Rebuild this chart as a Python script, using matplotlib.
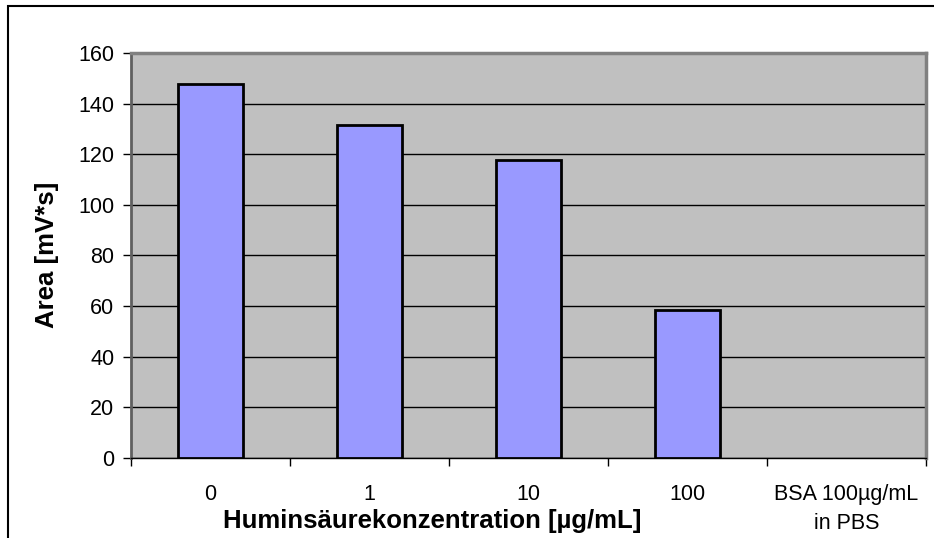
import matplotlib
matplotlib.use("Agg")
import matplotlib.pyplot as plt
from matplotlib.patches import Rectangle

categories = ["0", "1", "10", "100", "BSA 100µg/mL\nin PBS"]
values = [147.7, 131.6, 117.6, 58.5, 0.0]
yticks = [0, 20, 40, 60, 80, 100, 120, 140, 160]

plt.rcParams['font.family'] = ['Liberation Sans', 'DejaVu Sans']

fig = plt.figure(figsize=(9.34, 5.38), dpi=100)
W, H = 934, 538
L, R, T, B = 131, 926, 53, 458
ax = fig.add_axes([L / W, 1 - B / H, (R - L) / W, (B - T) / H])
ax.set_facecolor('#C0C0C0')

n = len(categories)
x = list(range(n))
edges = ['black' if v > 0 else 'none' for v in values]
ax.bar(x, values, width=0.41, color='#9999FF', edgecolor=edges, linewidth=2, zorder=3)

ax.set_xlim(-0.5, n - 0.5)
ax.set_ylim(0, 160)
ax.set_yticks(yticks)
ax.set_yticklabels([str(v) for v in yticks], fontsize=15.5)
ax.yaxis.grid(True, color='black', linewidth=1, zorder=1)
ax.set_axisbelow(True)

# major x ticks at category boundaries, labels via minor ticks at centers
ax.set_xticks([i - 0.5 for i in range(n + 1)])
ax.set_xticklabels([])
ax.set_xticks(x, minor=True)
ax.set_xticklabels(categories, minor=True, fontsize=15.5, linespacing=1.45)
ax.tick_params(axis='x', which='major', direction='out', length=6, width=1, color='black')
ax.tick_params(axis='x', which='minor', length=0, pad=19)
ax.tick_params(axis='y', direction='out', length=6, width=1, color='black', pad=6)

for side in ['top', 'right']:
    ax.spines[side].set_color('#808080')
    ax.spines[side].set_linewidth(2.5)
ax.spines['left'].set_color('#606060')
ax.spines['left'].set_linewidth(2)
ax.spines['bottom'].set_color('black')
ax.spines['bottom'].set_linewidth(1)

fig.text(432 / W, 1 - 521 / H, "Huminsäurekonzentration [µg/mL]", ha='center', va='center',
         fontsize=18.5, fontweight='bold')
fig.text(47 / W, 1 - 255 / H, "Area [mV*s]", ha='center', va='center', rotation=90,
         fontsize=18.5, fontweight='bold')

# outer chart frame
fig.patches.append(Rectangle((8 / W, -0.1), 2.0, 1 - 6 / H + 0.1, transform=fig.transFigure,
                             fill=False, edgecolor='black', linewidth=1.5))

fig.savefig('out.png', dpi=100)
